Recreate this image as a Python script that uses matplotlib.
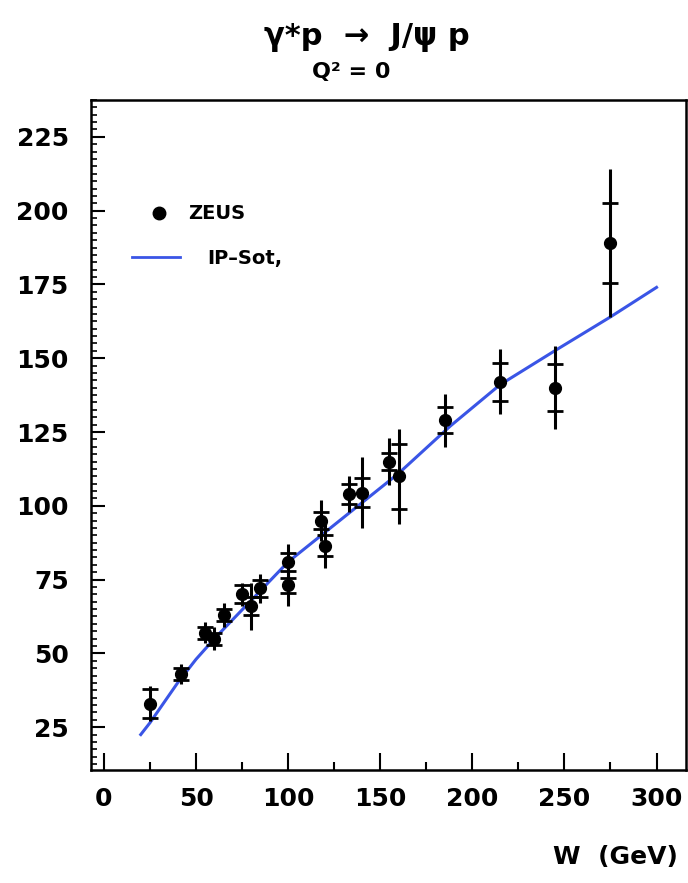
import matplotlib
matplotlib.use("Agg")
import matplotlib.pyplot as plt
from matplotlib.ticker import MultipleLocator

# ZEUS J/psi photoproduction points
W = [25, 42, 55, 60, 65, 75, 80, 85, 100, 100, 118, 120, 133, 140, 155, 160, 185, 215, 245, 275]
sigma = [33, 43, 57, 55, 63, 70, 66, 72, 81, 73, 95, 86.5, 104, 104.5, 115, 110, 129, 142, 140, 189]
err_stat = [5, 2, 2, 2, 2, 3, 3, 3, 3, 2.5, 3, 3.5, 3.5, 5, 3, 11, 4.5, 6.5, 8, 13.5]
err_tot = [6, 3.5, 3.5, 4, 4, 4, 8, 5, 6, 7, 7, 7.5, 6, 12, 8, 16, 9, 11, 14, 25]

# IP-Sat curve
W_model = [20, 25, 30, 40, 50, 60, 80, 100, 120, 140, 160, 188, 215, 246, 275, 300]
sigma_model = [22.5, 26.5, 31, 40, 48, 55, 68, 81, 91, 101, 111, 127, 141, 153, 164, 174]

plt.rcParams['font.family'] = ['DejaVu Sans']
plt.rcParams['font.weight'] = 'bold'

fig = plt.figure(figsize=(6.88, 8.83), dpi=100)
ax = fig.add_axes([0.1323, 0.128, 0.8648, 0.7588])

ax.plot(W_model, sigma_model, color='#3a55e6', lw=2.2, zorder=2)

ax.errorbar(W, sigma, yerr=err_tot, fmt='none', ecolor='black', elinewidth=2.2, zorder=3)
lo = [s - e for s, e in zip(sigma, err_stat)]
hi = [s + e for s, e in zip(sigma, err_stat)]
ax.plot(W, lo, ls='none', marker='_', ms=11, mew=2.0, color='black', zorder=3)
ax.plot(W, hi, ls='none', marker='_', ms=11, mew=2.0, color='black', zorder=3)
ax.plot(W, sigma, ls='none', marker='o', ms=8.5, color='black', zorder=4)

ax.set_xlim(-7, 316)
ax.set_ylim(10.5, 237.5)

ax.xaxis.set_major_locator(MultipleLocator(50))
ax.xaxis.set_minor_locator(MultipleLocator(25))
ax.yaxis.set_major_locator(MultipleLocator(25))
ax.yaxis.set_minor_locator(MultipleLocator(2.5))
ax.set_yticks(range(25, 226, 25))

ax.tick_params(axis='x', which='major', direction='in', length=12, width=1.5,
               labelsize=18, pad=12, top=False)
ax.tick_params(axis='x', which='minor', direction='in', length=6, width=1.5, top=False)
ax.tick_params(axis='y', which='major', direction='in', length=10, width=1.5,
               labelsize=18, pad=16, right=False)
ax.tick_params(axis='y', which='minor', direction='in', length=4, width=1.2, right=False)
for lab in ax.get_xticklabels() + ax.get_yticklabels():
    lab.set_fontweight('bold')
for sp in ax.spines.values():
    sp.set_linewidth(1.8)

# legend drawn by hand
ax.plot([0.114], [0.831], marker='o', ms=9, color='black', transform=ax.transAxes)
ax.text(0.163, 0.831, 'ZEUS', transform=ax.transAxes, fontsize=14,
        fontweight='bold', va='center', ha='left')
ax.plot([0.069, 0.150], [0.766, 0.766], color='#3a55e6', lw=2.0, transform=ax.transAxes)
ax.text(0.195, 0.763, 'IP\u2013Sot,', transform=ax.transAxes, fontsize=14,
        fontweight='bold', va='center', ha='left')

fig.text(0.533, 0.958, 'γ*p  →  J/ψ p', ha='center', va='center',
         fontsize=22, fontweight='bold')
fig.text(0.510, 0.918, 'Q² = 0', ha='center', va='center',
         fontsize=16, fontweight='bold')
fig.text(0.895, 0.029, 'W  (GeV)', ha='center', va='center',
         fontsize=18, fontweight='bold')

fig.savefig('out.png', dpi=100)
